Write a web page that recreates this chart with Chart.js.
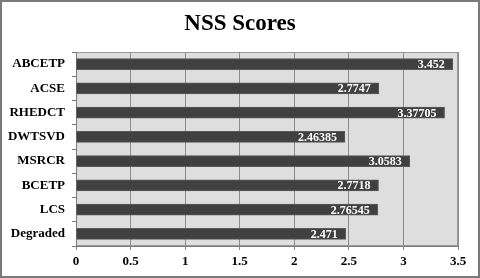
<!DOCTYPE html>
<html>
<head>
<meta charset="utf-8">
<script src="https://cdn.jsdelivr.net/npm/chart.js@4"></script>
<style>
  html, body { margin: 0; padding: 0; background: #fff; }
  #wrap { width: 480px; height: 278px; box-sizing: border-box; border: 2px solid #7a7a7a; background: #fff; }
  canvas { display: block; }
</style>
</head>
<body>
<div id="wrap"><canvas id="nssChart" width="476" height="274"></canvas></div>
<script>
// NSS scores per method
const chartTitle = "NSS Scores";
const methods = ["ABCETP", "ACSE", "RHEDCT", "DWTSVD", "MSRCR", "BCETP", "LCS", "Degraded"];
const nssScores = [3.452, 2.7747, 3.37705, 2.46385, 3.0583, 2.7718, 2.76545, 2.471];
const scoreLabels = ["3.452", "2.7747", "3.37705", "2.46385", "3.0583", "2.7718", "2.76545", "2.471"];
const xTicks = [0, 0.5, 1, 1.5, 2, 2.5, 3, 3.5];

const serif = "'Liberation Serif', 'DejaVu Serif', serif";

// gray plot background + frame, and the title centred on the whole canvas
const plotBackground = {
    id: "plotBackground",
    beforeDraw(chart) {
        const { ctx, chartArea: a } = chart;
        ctx.save();
        ctx.fillStyle = "#dedede";
        ctx.fillRect(a.left, a.top, a.right - a.left, a.bottom - a.top);
        ctx.strokeStyle = "#9a9a9a";
        ctx.lineWidth = 1;
        ctx.strokeRect(a.left + 0.5, a.top + 0.5, a.right - a.left - 1, a.bottom - a.top - 1);

        ctx.font = "bold 23px " + serif;
        ctx.fillStyle = "#000";
        ctx.textAlign = "center";
        ctx.textBaseline = "middle";
        ctx.fillText(chartTitle, chart.width / 2, 22);
        ctx.restore();
    }
};

// white value labels inside the bar ends
const valueLabels = {
    id: "valueLabels",
    afterDatasetsDraw(chart) {
        const { ctx } = chart;
        const meta = chart.getDatasetMeta(0);
        ctx.save();
        ctx.font = "bold 12px " + serif;
        ctx.fillStyle = "#ffffff";
        ctx.textAlign = "right";
        ctx.textBaseline = "middle";
        meta.data.forEach((bar, i) => {
            ctx.fillText(scoreLabels[i], bar.x - 8, bar.y + 1);
        });
        ctx.restore();
    }
};

new Chart(document.getElementById("nssChart"), {
    type: "bar",
    data: {
        labels: methods,
        datasets: [{
            data: nssScores,
            backgroundColor: "#404040",
            borderColor: "#5a5a5a",
            borderWidth: 1,
            barThickness: 11
        }]
    },
    options: {
        indexAxis: "y",
        responsive: false,
        animation: false,
        layout: { padding: { left: 0, right: 20, top: 50, bottom: 6 } },
        plugins: {
            legend: { display: false },
            tooltip: { enabled: false },
            title: { display: false }
        },
        scales: {
            x: {
                min: 0,
                max: 3.5,
                afterBuildTicks: (scale) => { scale.ticks = xTicks.map(v => ({ value: v })); },
                afterFit: (scale) => { scale.height = 24; },
                border: { display: true, color: "#7a7a7a", width: 1 },
                grid: { color: "#8c8c8c", lineWidth: 1, tickLength: 4 },
                ticks: {
                    color: "#000",
                    font: { family: serif, size: 13, weight: "bold" },
                    padding: 4,
                    maxRotation: 0,
                    callback: (v) => String(v)
                }
            },
            y: {
                afterFit: (scale) => { scale.width = 74; },
                border: { display: true, color: "#7a7a7a", width: 1 },
                grid: { drawOnChartArea: false, color: "#7a7a7a", tickLength: 4, offset: true },
                ticks: {
                    color: "#000",
                    font: { family: serif, size: 13, weight: "bold" },
                    padding: 7
                }
            }
        }
    },
    plugins: [plotBackground, valueLabels]
});
</script>
</body>
</html>
